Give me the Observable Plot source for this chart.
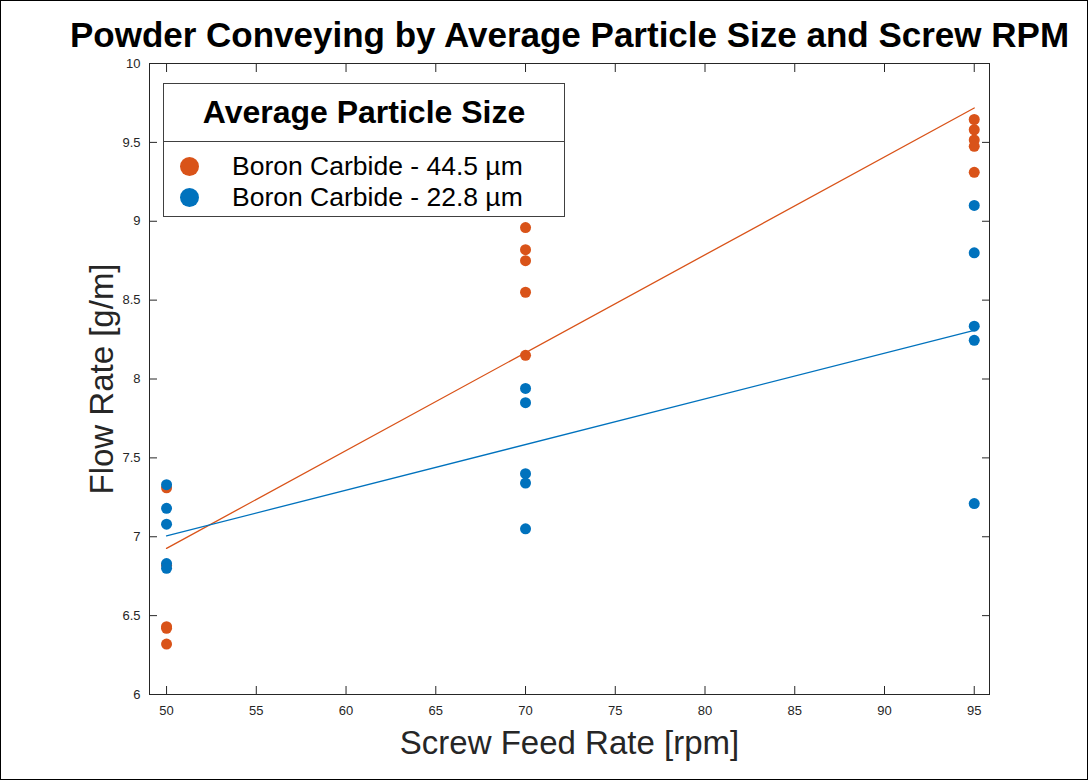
<!DOCTYPE html>
<html>
<head>
<meta charset="utf-8">
<script src="https://cdn.jsdelivr.net/npm/d3@7"></script>
<script src="https://cdn.jsdelivr.net/npm/@observablehq/plot@0.6"></script>
<style>
  html, body { margin: 0; padding: 0; background: #fff; }
  #wrap { position: relative; width: 1088px; height: 780px; overflow: hidden; font-family: "Liberation Sans", Arial, sans-serif; }
  #border { position: absolute; left: 0; top: 0; border: 1.5px solid #000; pointer-events: none; box-sizing: border-box; width: 1088px; height: 780px; }
  #legend { position: absolute; left: 163px; top: 83px; width: 402px; height: 134px; box-sizing: border-box; border: 1.5px solid #404040; background: #fff; }
  #legend .hdr { height: 58px; border-bottom: 1.5px solid #404040; box-sizing: border-box; font-weight: bold; font-size: 32px; color: #000; text-align: center; line-height: 57px; }
  #legend .rows { padding-top: 9px; }
  #legend .row { position: relative; height: 31px; line-height: 31px; font-size: 26.5px; color: #000; padding-left: 68px; white-space: nowrap; }
  #legend .dot { position: absolute; left: 16px; top: 6px; width: 19px; height: 19px; border-radius: 50%; }
</style>
</head>
<body>
<div id="wrap"></div>
<script>
// ---- data ----
const seriesNames = ["Boron Carbide - 44.5 µm", "Boron Carbide - 22.8 µm"];
const seriesColors = ["#D95319", "#0072BD"];
const rpm = [50, 50, 50, 50, 50, 70, 70, 70, 70, 70, 95, 95, 95, 95, 95];
const flowCoarse = [7.31, 6.82, 6.43, 6.42, 6.32, 8.96, 8.82, 8.75, 8.55, 8.15, 9.645, 9.58, 9.515, 9.475, 9.31];
const flowFine = [7.33, 7.18, 7.08, 6.83, 6.80, 7.94, 7.85, 7.40, 7.34, 7.05, 9.10, 8.80, 8.335, 8.245, 7.21];
const xTicks = [50, 55, 60, 65, 70, 75, 80, 85, 90, 95];
const yTicks = [6, 6.5, 7, 7.5, 8, 8.5, 9, 9.5, 10];
const titleText = "Powder Conveying by Average Particle Size and Screw RPM";
const xLabel = "Screw Feed Rate [rpm]";
const yLabel = "Flow Rate [g/m]";
const legendTitle = "Average Particle Size";

const rows = [
  ...rpm.map((r, i) => ({rpm: r, flow: flowCoarse[i], series: seriesNames[0]})),
  ...rpm.map((r, i) => ({rpm: r, flow: flowFine[i], series: seriesNames[1]}))
];

const axisColor = "#262626";
const noText = () => "";

const chart = Plot.plot({
  width: 1088,
  height: 780,
  marginTop: 63,
  marginLeft: 149,
  marginRight: 99,
  marginBottom: 86,
  style: {fontFamily: "'Liberation Sans', Arial, sans-serif", fontSize: "13px", color: axisColor, background: "transparent"},
  x: {domain: [49.05, 95.85]},
  y: {domain: [6, 10]},
  color: {domain: seriesNames, range: seriesColors},
  marks: [
    Plot.frame({stroke: axisColor, strokeWidth: 1}),
    Plot.axisX({anchor: "bottom", ticks: xTicks, tickSize: -8, tickPadding: 19, tickFormat: "~g", label: null, stroke: axisColor}),
    Plot.axisX({anchor: "top", ticks: xTicks, tickSize: -8, tickFormat: noText, label: null, stroke: axisColor}),
    Plot.axisY({anchor: "left", ticks: yTicks, tickSize: -8, tickPadding: 17, tickFormat: "~g", label: null, stroke: axisColor}),
    Plot.axisY({anchor: "right", ticks: yTicks, tickSize: -8, tickFormat: noText, label: null, stroke: axisColor}),
    Plot.dot(rows, {x: "rpm", y: "flow", fill: "series", r: 5.5}),
    Plot.linearRegressionY(rows, {x: "rpm", y: "flow", stroke: "series", ci: 0, strokeWidth: 1.3}),
    Plot.text([titleText], {text: d => d, frameAnchor: "top", dy: -28, fontSize: 35, fontWeight: "bold", fill: "#000", lineAnchor: "middle"}),
    Plot.text([xLabel], {text: d => d, frameAnchor: "bottom", dy: 49, fontSize: 33, fill: axisColor, lineAnchor: "middle"}),
    Plot.text([yLabel], {text: d => d, frameAnchor: "left", dx: -47, rotate: -90, fontSize: 33, fill: axisColor, lineAnchor: "middle", textAnchor: "middle"})
  ]
});

const wrap = document.getElementById("wrap");
wrap.appendChild(chart);

// legend
const legend = document.createElement("div");
legend.id = "legend";
const hdr = document.createElement("div");
hdr.className = "hdr";
hdr.textContent = legendTitle;
legend.appendChild(hdr);
const rowsDiv = document.createElement("div");
rowsDiv.className = "rows";
seriesNames.forEach((name, i) => {
  const r = document.createElement("div");
  r.className = "row";
  const d = document.createElement("span");
  d.className = "dot";
  d.style.background = seriesColors[i];
  r.appendChild(d);
  r.appendChild(document.createTextNode(name));
  rowsDiv.appendChild(r);
});
legend.appendChild(rowsDiv);
wrap.appendChild(legend);

const border = document.createElement("div");
border.id = "border";
wrap.appendChild(border);
</script>
</body>
</html>
